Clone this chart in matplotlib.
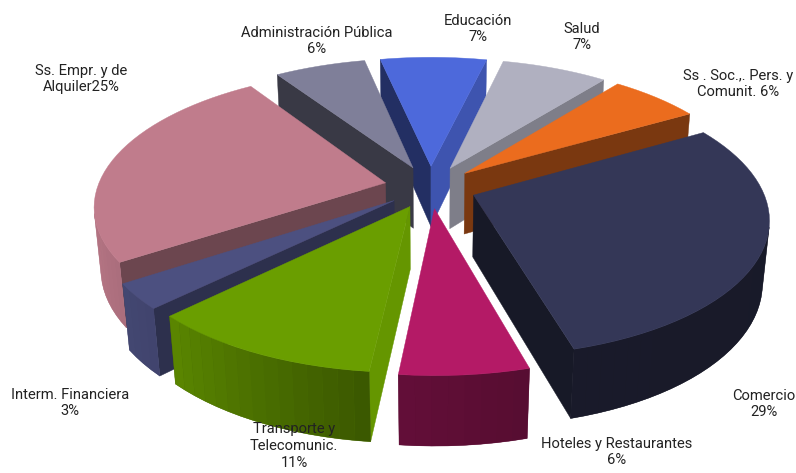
import matplotlib
matplotlib.use('Agg')
import matplotlib.pyplot as plt
from matplotlib.colors import to_rgb
import numpy as np

# share of each sector, clockwise
sectors = ['Comercio', 'Hoteles', 'Transporte', 'Interm', 'Empresas',
           'Administracion', 'Educacion', 'Salud', 'Sociales']
shares = [29, 6, 11, 3, 25, 6, 7, 7, 6]
top_colors = ['#343757', '#b41a66', '#6a9e00', '#4c5080', '#c07c8c',
              '#7f7f99', '#4d69db', '#b0b0c0', '#eb6c1e']
labels = ['Comercio\n29%', 'Hoteles y Restaurantes\n6%',
          'Transporte y\nTelecomunic.\n11%', 'Interm. Financiera\n3%',
          'Ss. Empr. y de\nAlquiler25%', 'Administración Pública\n6%',
          'Educación\n7%', 'Salud\n7%', 'Ss . Soc.,. Pers. y\nComunit. 6%']
label_xy = [(764, 404), (617, 452), (294, 446), (70, 403), (81, 79),
            (317, 41), (478, 29), (582, 37), (738, 84)]

# camera and pie shape, canvas is in pixels
START = 60.0
CX, CY = 430.5, 187.0
R = 288.0
EXPLODE = 0.16
HEIGHT = 0.245
TILT = np.radians(27.4)
PERSP = 0.18


def project(u, v, z):
    depth = v * np.cos(TILT) - z * np.sin(TILT)
    s = 1.0 / (1.0 + PERSP * depth)
    x = CX + R * u * s
    y = CY - R * (v * np.sin(TILT) + z * np.cos(TILT)) * s
    return x, y


def area(pts):
    pts = np.array(pts)
    x, y = pts[:, 0], pts[:, 1]
    return np.sum(x * np.roll(y, -1) - np.roll(x, -1) * y) / 2.0


def cut_shade(normal):
    return np.interp(normal % 360, [96, 103, 128, 135, 146, 150, 236, 258],
                     [.95, .8, .72, .6, .57, .52, .45, .45])


def rim_shade(phi):
    return np.interp(phi % 360, [60, 164, 186, 225, 250, 270],
                     [.46, .48, .55, .85, .93, .97])


def shaded(color, f):
    return tuple(np.array(to_rgb(color)) * f)


def draw_slice(ax, a0, a1, color):
    mid = np.radians((a0 + a1) / 2)
    ou, ov = EXPLODE * np.sin(mid), EXPLODE * np.cos(mid)
    phis = np.linspace(a0, a1, max(int((a1 - a0) / 2.5), 2) + 1)
    rad = np.radians(phis)
    us, vs = ou + np.sin(rad), ov + np.cos(rad)
    top_rim = [project(u, v, 0) for u, v in zip(us, vs)]
    low_rim = [project(u, v, -HEIGHT) for u, v in zip(us, vs)]
    apex_top = project(ou, ov, 0)
    apex_low = project(ou, ov, -HEIGHT)

    # cut faces, only the ones turned to the camera
    quad = [apex_top, top_rim[0], low_rim[0], apex_low]
    if area(quad) < 0:
        ax.fill(*zip(*quad), color=shaded(color, cut_shade(a0 - 90)), lw=0.3)
    quad = [apex_top, top_rim[-1], low_rim[-1], apex_low]
    if area(quad) > 0:
        ax.fill(*zip(*quad), color=shaded(color, cut_shade(a1 + 90)), lw=0.3)

    # outer wall in narrow bands, over a flat wall so no seams show
    bands = []
    for i in range(len(phis) - 1):
        quad = [top_rim[i], top_rim[i + 1], low_rim[i + 1], low_rim[i]]
        if area(quad) < 0:
            bands.append((quad, rim_shade((phis[i] + phis[i + 1]) / 2)))
    if bands:
        wall = [q[0] for q, f in bands] + [bands[-1][0][1], bands[-1][0][2]] \
            + [q[3] for q, f in bands][::-1]
        ax.fill(*zip(*wall), color=shaded(color, np.mean([f for q, f in bands])), lw=0.3)
        for quad, f in bands:
            ax.fill(*zip(*quad), color=shaded(color, f), lw=0)

    ax.fill(*zip(*([apex_top] + top_rim)), color=color, lw=0.3)


fig = plt.figure(figsize=(7.96, 4.73), dpi=100)
ax = fig.add_axes([0, 0, 1, 1])
ax.set_xlim(0, 796)
ax.set_ylim(473, 0)
ax.axis('off')

sweeps = np.array(shares) * 360.0 / sum(shares)
starts = START + np.concatenate(([0], np.cumsum(sweeps)[:-1]))
mids = np.radians(starts + sweeps / 2)

# far slices first
for i in np.argsort(-np.cos(mids)):
    draw_slice(ax, starts[i], starts[i] + sweeps[i], top_colors[i])

for text, (x, y) in zip(labels, label_xy):
    ax.text(x, y, text, ha='center', va='center', fontsize=10.6,
            family='Roboto', weight='normal',
            color='#222222', linespacing=1.27)

fig.savefig('out.png', dpi=100)
